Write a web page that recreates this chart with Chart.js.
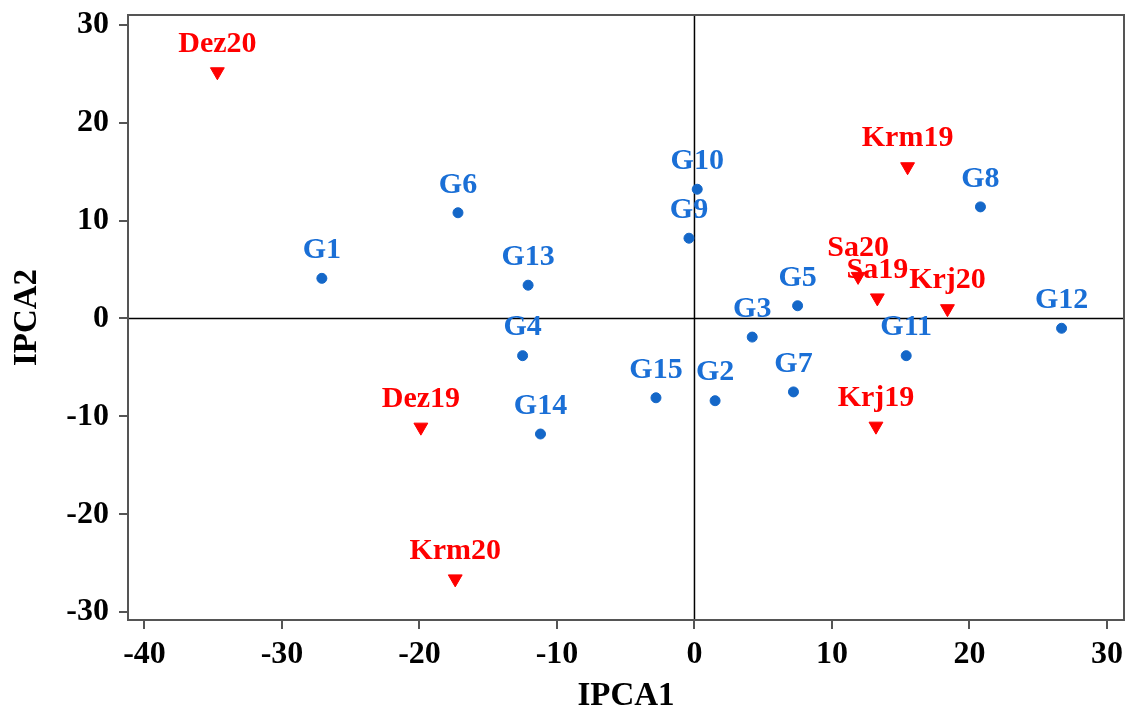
<!DOCTYPE html>
<html>
<head>
<meta charset="utf-8">
<script src="https://cdn.jsdelivr.net/npm/chart.js@4.4.1/dist/chart.umd.min.js"></script>
<style>
  html, body { margin: 0; padding: 0; background: #fff; }
  #wrap { width: 1125px; height: 710px; }
</style>
</head>
<body>
<div id="wrap"><canvas id="biplot"></canvas></div>
<script>
// genotypes (blue dots)
const genoNames = ['G1', 'G2', 'G3', 'G4', 'G5', 'G6', 'G7', 'G8', 'G9', 'G10', 'G11', 'G12', 'G13', 'G14', 'G15']
const genoIPCA1 = [-27.1, 1.5, 4.2, -12.5, 7.5, -17.2, 7.2, 20.8, -0.4, 0.2, 15.4, 26.7, -12.1, -11.2, -2.8]
const genoIPCA2 = [4.1, -8.4, -1.9, -3.8, 1.3, 10.8, -7.5, 11.4, 8.2, 13.2, -3.8, -1.0, 3.4, -11.8, -8.1]

// environments (red triangles)
const envNames = ['Dez19', 'Dez20', 'Krj19', 'Krj20', 'Krm19', 'Krm20', 'Sa19', 'Sa20']
const envIPCA1 = [-19.9, -34.7, 13.2, 18.4, 15.5, -17.4, 13.3, 11.9]
const envIPCA2 = [-11.1, 25.2, -11.0, 1.0, 15.5, -26.6, 2.1, 4.3]

const xTicks = [-40, -30, -20, -10, 0, 10, 20, 30]
const yTicks = [-30, -20, -10, 0, 10, 20, 30]

const serif = '"Liberation Serif", "Times New Roman", serif'
const blue = '#1467c8'
const red = '#ff0000'
const axisGray = '#555555'

function toPoints(xs, ys, names) {
  return xs.map((x, i) => ({ x: x, y: ys[i], name: names[i] }))
}

// box round the plot, zero lines, and the point labels
const biplotExtras = {
  id: 'biplotExtras',
  beforeDatasetsDraw(chart) {
    const { ctx, chartArea: a, scales } = chart
    const x0 = scales.x.getPixelForValue(0)
    const y0 = scales.y.getPixelForValue(0)
    ctx.save()
    ctx.strokeStyle = '#000'
    ctx.lineWidth = 1.5
    ctx.beginPath()
    ctx.moveTo(x0, a.top); ctx.lineTo(x0, a.bottom)
    ctx.moveTo(a.left, y0); ctx.lineTo(a.right, y0)
    ctx.stroke()
    ctx.strokeStyle = axisGray
    ctx.lineWidth = 2
    ctx.strokeRect(a.left, a.top, a.right - a.left, a.bottom - a.top)
    ctx.restore()
  },
  afterDatasetsDraw(chart) {
    const { ctx } = chart
    ctx.save()
    ctx.font = 'bold 30px ' + serif
    ctx.textAlign = 'center'
    ctx.textBaseline = 'middle'
    chart.data.datasets.forEach((ds, di) => {
      const meta = chart.getDatasetMeta(di)
      ctx.fillStyle = ds.labelColor
      meta.data.forEach((pt, i) => {
        ctx.fillText(ds.data[i].name, pt.x, pt.y - 28)
      })
    })
    ctx.restore()
  }
}

const ctx = document.getElementById('biplot').getContext('2d')
const chart = new Chart(ctx, {
  type: 'scatter',
  data: {
    datasets: [
      {
        label: 'Genotypes',
        data: toPoints(genoIPCA1, genoIPCA2, genoNames),
        backgroundColor: blue,
        borderColor: blue,
        pointStyle: 'circle',
        pointRadius: 5,
        labelColor: '#1a6fd6'
      },
      {
        label: 'Environments',
        data: toPoints(envIPCA1, envIPCA2, envNames),
        backgroundColor: red,
        borderColor: red,
        pointStyle: 'triangle',
        rotation: 180,
        pointRadius: 8,
        labelColor: red
      }
    ]
  },
  options: {
    responsive: true,
    maintainAspectRatio: false,
    animation: false,
    layout: { autoPadding: false, padding: { top: 15, right: 1, left: 0, bottom: 0 } },
    plugins: { legend: { display: false }, tooltip: { enabled: false } },
    scales: {
      x: {
        type: 'linear',
        min: -41.2,
        max: 31.24,
        afterBuildTicks: (axis) => { axis.ticks = xTicks.map(v => ({ value: v })) },
        afterFit: (axis) => { axis.height = 90; axis.paddingLeft = 0; axis.paddingRight = 0 },
        grid: { drawOnChartArea: false, drawTicks: true, tickLength: 9, color: axisGray, lineWidth: 2 },
        border: { display: false },
        ticks: { color: '#000', padding: 7, maxRotation: 0, font: { family: serif, size: 32, weight: 'bold' } },
        title: { display: true, text: 'IPCA1', color: '#000', padding: { top: 0, bottom: 0 }, font: { family: serif, size: 33, weight: 'bold', lineHeight: 0.8 } }
      },
      y: {
        type: 'linear',
        min: -30.8,
        max: 31.0,
        afterBuildTicks: (axis) => { axis.ticks = yTicks.map(v => ({ value: v })) },
        afterFit: (axis) => { axis.width = 128; axis.paddingTop = 0; axis.paddingBottom = 0 },
        grid: { drawOnChartArea: false, drawTicks: true, tickLength: 9, color: axisGray, lineWidth: 2 },
        border: { display: false },
        ticks: { color: '#000', padding: 10, font: { family: serif, size: 32, weight: 'bold' } },
        title: { display: true, text: 'IPCA2', color: '#000', padding: { top: 0, bottom: 0 }, font: { family: serif, size: 33, weight: 'bold', lineHeight: 1.65 } }
      }
    }
  },
  plugins: [biplotExtras]
})
</script>
</body>
</html>
